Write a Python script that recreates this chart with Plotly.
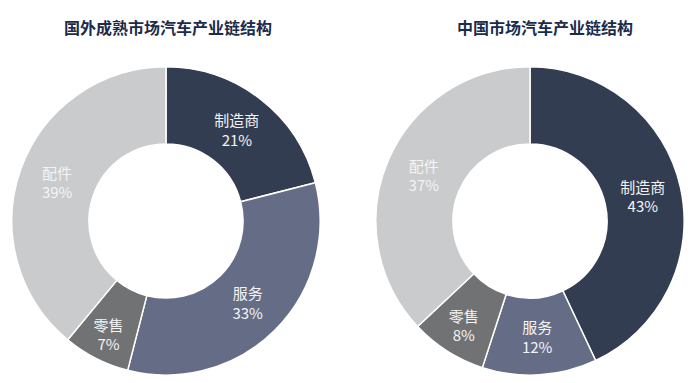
import plotly.graph_objects as go

labels = ["制造商", "服务", "零售", "配件"]
foreign_values = [21, 33, 7, 39]
china_values = [43, 12, 8, 37]
titles = ["国外成熟市场汽车产业链结构", "中国市场汽车产业链结构"]
colors = ["#333d51", "#656c86", "#717273", "#cacbcc"]

FONT = "Noto Sans CJK SC"

fig = go.Figure()
for vals, dom in [(foreign_values, dict(x=[0.017, 0.46], y=[0.02, 0.826])),
                  (china_values, dict(x=[0.54, 0.983], y=[0.02, 0.826]))]:
    fig.add_trace(go.Pie(
        labels=labels, values=vals, sort=False, direction="clockwise", rotation=0,
        hole=0.5, domain=dom,
        marker=dict(colors=colors, line=dict(color="white", width=1.5)),
        texttemplate="%{label}<br>%{value}%", textposition="inside",
        insidetextorientation="horizontal",
        insidetextfont=dict(family=FONT, size=15, color="#f4f4f4"),
        hoverinfo="skip", showlegend=False,
    ))

for t, x in zip(titles, [0.242, 0.783]):
    fig.add_annotation(text=t, x=x, y=0.93, xref="paper", yref="paper",
                       xanchor="center", yanchor="middle", showarrow=False,
                       font=dict(family=FONT, size=16, color="#1b2b4b", weight="bold"))

fig.update_layout(width=696, height=383, margin=dict(l=0, r=0, t=0, b=0),
                  paper_bgcolor="white", plot_bgcolor="white",
                  uniformtext=dict(minsize=10, mode="show"))
fig.write_html("out.html", config={"displayModeBar": False},
               post_script="document.body.style.margin='0';")
